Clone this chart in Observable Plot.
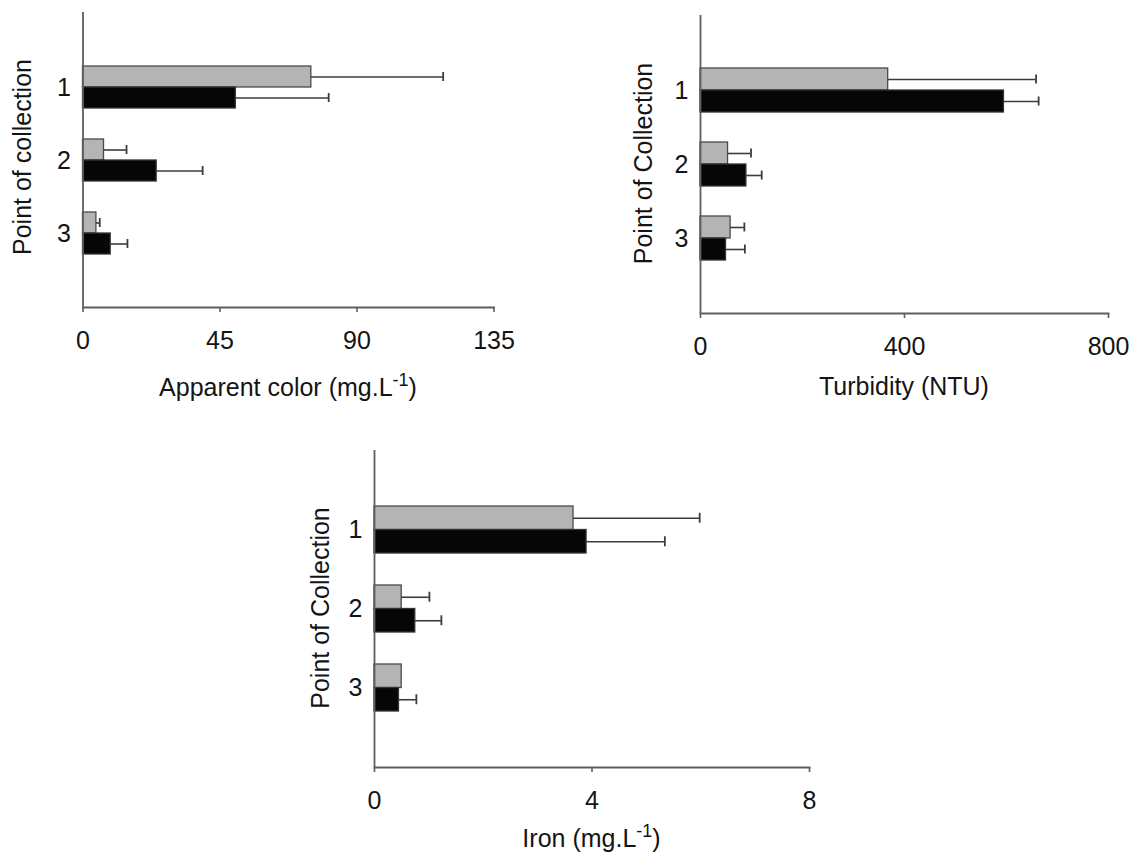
<!DOCTYPE html>
<html><head><meta charset="utf-8">
<script src="https://cdn.jsdelivr.net/npm/d3@7"></script>
<script src="https://cdn.jsdelivr.net/npm/@observablehq/plot@0.6"></script>
<style>
body{margin:0;background:#fff;width:1135px;height:852px;position:relative;overflow:hidden;font-family:"Liberation Sans",Arial,sans-serif;}
.panel{position:absolute;}
</style></head><body>
<div id="p1" class="panel" style="left:0px;top:0px"></div>
<div id="p2" class="panel" style="left:620px;top:0px"></div>
<div id="p3" class="panel" style="left:290px;top:430px"></div>
<script>
// categories
const points = ["1", "2", "3"];
// Apparent color (mg.L-1)
const colorGray = [75.0, 6.9, 4.4];
const colorGraySD = [43.3, 7.4, 1.1];
const colorBlack = [50.2, 24.2, 9.1];
const colorBlackSD = [30.5, 15.1, 5.5];
const colorTicks = [0, 45, 90, 135];
// Turbidity (NTU)
const turbGray = [368, 54, 59];
const turbGraySD = [290, 45, 27];
const turbBlack = [595, 90, 50];
const turbBlackSD = [68, 30, 37];
const turbTicks = [0, 400, 800];
// Iron (mg.L-1)
const ironGray = [3.66, 0.50, 0.50];
const ironGraySD = [2.32, 0.51, null];
const ironBlack = [3.90, 0.75, 0.45];
const ironBlackSD = [1.44, 0.48, 0.32];
const ironTicks = [0, 4, 8];

const FONT = '"Liberation Sans", Arial, sans-serif';
const AXIS = "#5e5e5e";
const ERR = "#3c3c3c";

function panel(cfg) {
  const {el, gray, graySD, black, blackSD, ticks, width, height, ml, mr, mt, mb, bw, cap,
         xLabel, xSup, xLabelY, yLabel, yLabelX, yLabelY} = cfg;
  const rows = points.map((p, i) => ({point: p, gray: gray[i], graySD: graySD[i], black: black[i], blackSD: blackSD[i]}));
  const H = height - mt - mb;
  const step = H / 4;
  const pI = 1 - bw / step;
  const pO = (1 + pI) / 2;
  const gErr = rows.filter(d => d.graySD != null);
  const bErr = rows.filter(d => d.blackSD != null);
  const svg = Plot.plot({
    width, height, marginLeft: ml, marginRight: mr, marginTop: mt, marginBottom: mb,
    style: {fontFamily: FONT, fontSize: "25px", color: "#141414", background: "transparent", overflow: "visible"},
    x: {domain: [ticks[0], ticks[ticks.length - 1]]},
    y: {domain: points, paddingInner: pI, paddingOuter: pO},
    marks: [
      Plot.barX(rows, {y: "point", x: "gray", fill: "#b4b4b4", stroke: "#4a4a4a", strokeWidth: 1.3, insetBottom: bw / 2}),
      Plot.barX(rows, {y: "point", x: "black", fill: "#060606", stroke: "#333", strokeWidth: 1.3, insetTop: bw / 2}),
      Plot.ruleY(gErr, {y: "point", x1: "gray", x2: d => d.gray + d.graySD, dy: -bw / 4, stroke: ERR, strokeWidth: 1.6}),
      Plot.tickX(gErr, {y: "point", x: d => d.gray + d.graySD, insetTop: bw / 4 - cap / 2, insetBottom: bw * 3 / 4 - cap / 2, stroke: ERR, strokeWidth: 1.8}),
      Plot.ruleY(bErr, {y: "point", x1: "black", x2: d => d.black + d.blackSD, dy: bw / 4, stroke: ERR, strokeWidth: 1.6}),
      Plot.tickX(bErr, {y: "point", x: d => d.black + d.blackSD, insetTop: bw * 3 / 4 - cap / 2, insetBottom: bw / 4 - cap / 2, stroke: ERR, strokeWidth: 1.8}),
      Plot.ruleX([ticks[0]], {stroke: AXIS, strokeWidth: 1.8}),
      Plot.frame({anchor: "bottom", stroke: AXIS, strokeWidth: 1.8}),
      Plot.axisX({ticks, tickSize: 5, tickPadding: 19, stroke: AXIS, strokeWidth: 1.6, label: null, fontSize: 25}),
      Plot.axisY({tickSize: 0, tickPadding: 12, label: null, fontSize: 25})
    ]
  });
  const s = d3.select(svg);
  const cx = ml + (width - ml - mr) / 2;
  const t = s.append("text").attr("x", cx).attr("y", xLabelY).attr("dy", "0.35em")
    .attr("text-anchor", "middle").attr("font-family", FONT).attr("font-size", 25).attr("fill", "#141414");
  t.append("tspan").text(xLabel);
  if (xSup) {
    t.append("tspan").attr("font-size", 18).attr("dy", -10).text(xSup);
    t.append("tspan").attr("dy", 10).text(")");
  }
  s.append("text").attr("transform", `translate(${yLabelX},${yLabelY}) rotate(-90)`)
    .attr("dy", "0.35em").attr("text-anchor", "middle").attr("font-family", FONT)
    .attr("font-size", 25).attr("fill", "#141414").text(yLabel);
  document.getElementById(el).appendChild(svg);
}

panel({el: "p1", gray: colorGray, graySD: colorGraySD, black: colorBlack, blackSD: colorBlackSD, ticks: colorTicks,
  width: 520, height: 420, ml: 82.5, mr: 26.5, mt: 12, mb: 113, bw: 42, cap: 9,
  xLabel: "Apparent color (mg.L", xSup: "-1", xLabelY: 387, yLabel: "Point of collection", yLabelX: 22, yLabelY: 157});
panel({el: "p2", gray: turbGray, graySD: turbGraySD, black: turbBlack, blackSD: turbBlackSD, ticks: turbTicks,
  width: 515, height: 420, ml: 80, mr: 27, mt: 15, mb: 107, bw: 44, cap: 9,
  xLabel: "Turbidity (NTU)", xSup: null, xLabelY: 386, yLabel: "Point of Collection", yLabelX: 23, yLabelY: 163.5});
panel({el: "p3", gray: ironGray, graySD: ironGraySD, black: ironBlack, blackSD: ironBlackSD, ticks: ironTicks,
  width: 560, height: 422, ml: 84, mr: 41, mt: 20, mb: 85, bw: 47, cap: 10,
  xLabel: "Iron (mg.L", xSup: "-1", xLabelY: 408, yLabel: "Point of Collection", yLabelX: 30, yLabelY: 178});
</script>
</body></html>
